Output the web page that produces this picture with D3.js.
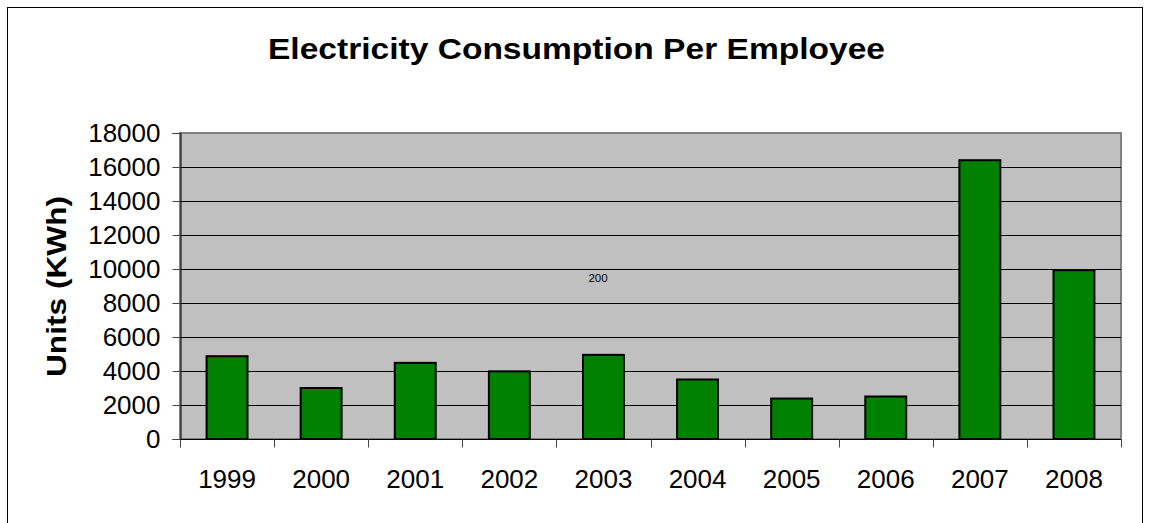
<!DOCTYPE html>
<html>
<head>
<meta charset="utf-8">
<script src="https://cdn.jsdelivr.net/npm/d3@7"></script>
<style>
  body { margin: 0; background: #ffffff; }
  text { font-family: "Liberation Sans", Arial, sans-serif; }
</style>
</head>
<body>
<div class="chart"></div>
<script>
var years = ['1999', '2000', '2001', '2002', '2003', '2004', '2005', '2006', '2007', '2008']
var units = [4870, 3000, 4480, 3980, 4950, 3500, 2380, 2500, 16400, 9930]
var yTicks = [0, 2000, 4000, 6000, 8000, 10000, 12000, 14000, 16000, 18000]
var titleText = 'Electricity Consumption Per Employee'
var yLabel = 'Units (KWh)'
var stray = '200'

var width = 1149
var height = 523

function drawChart() {
    var plot = { left: 180, right: 1121, top: 133, bottom: 439 }

    const svg = d3.select('.chart')
        .append('svg')
        .attr('width', width)
        .attr('height', height)

    // outer chart border (bottom runs off the picture)
    svg.append('rect')
        .attr('x', 7.5).attr('y', 7.5)
        .attr('width', 1135).attr('height', 530)
        .attr('fill', 'white')
        .attr('stroke', 'black')
        .attr('stroke-width', 1)

    var x = d3.scaleBand()
        .domain(years)
        .range([plot.left, plot.right])
        .paddingInner(0.565)
        .paddingOuter(0.2825)

    var y = d3.scaleLinear()
        .domain([0, 18000])
        .range([plot.bottom, plot.top])

    // gray plot area
    svg.append('rect')
        .attr('x', plot.left).attr('y', plot.top)
        .attr('width', plot.right - plot.left)
        .attr('height', plot.bottom - plot.top)
        .attr('fill', '#c0c0c0')
        .attr('stroke', '#808080')
        .attr('stroke-width', 2)

    // gridlines
    svg.selectAll('.grid')
        .data(yTicks.slice(1, -1))
        .enter()
        .append('line')
        .attr('x1', plot.left).attr('x2', plot.right)
        .attr('y1', function(d) { return Math.round(y(d)) + 0.5 })
        .attr('y2', function(d) { return Math.round(y(d)) + 0.5 })
        .attr('stroke', '#000')
        .attr('stroke-width', 1)

    // bars
    svg.selectAll('.bar')
        .data(units)
        .enter()
        .append('rect')
        .attr('x', function(d, i) { return x(years[i]) })
        .attr('y', function(d) { return y(d) })
        .attr('width', x.bandwidth())
        .attr('height', function(d) { return y(0) - y(d) })
        .attr('fill', '#008000')
        .attr('stroke', 'black')
        .attr('stroke-width', 2)

    // y axis
    var yAxis = d3.axisLeft(y)
        .tickValues(yTicks)
        .tickSize(8)
        .tickPadding(12)
        .tickFormat(d3.format('d'))
    var gy = svg.append('g')
        .attr('transform', 'translate(' + (plot.left + 0.5) + ',0)')
        .call(yAxis)
    gy.select('.domain').attr('stroke', 'black')
    gy.selectAll('.tick line').attr('stroke', '#444')
    gy.selectAll('text')
        .style('font-size', '26px')
        .attr('fill', 'black')

    // x axis, ticks between categories
    var gx = svg.append('g')
        .attr('transform', 'translate(0,' + (plot.bottom + 0.5) + ')')
    gx.append('line')
        .attr('x1', plot.left).attr('x2', plot.right)
        .attr('stroke', 'black')
    var step = x.step()
    var edges = years.map(function(d) { return x(d) - (step - x.bandwidth()) / 2 })
    edges.push(plot.right)
    gx.selectAll('.xtick')
        .data(edges)
        .enter()
        .append('line')
        .attr('x1', function(d) { return Math.round(d) + 0.5 })
        .attr('x2', function(d) { return Math.round(d) + 0.5 })
        .attr('y1', 0).attr('y2', 8)
        .attr('stroke', '#444')
    gx.selectAll('.xlabel')
        .data(years)
        .enter()
        .append('text')
        .text(function(d) { return d })
        .attr('x', function(d) { return x(d) + x.bandwidth() / 2 })
        .attr('y', 48)
        .style('text-anchor', 'middle')
        .style('font-size', '26px')

    // title (original is drawn wider than plain Arial bold)
    svg.append('text')
        .text(titleText)
        .attr('x', 268)
        .attr('y', 59)
        .attr('textLength', 617)
        .attr('lengthAdjust', 'spacingAndGlyphs')
        .style('font-size', '30px')
        .style('font-weight', 'bold')

    // y axis title
    var cy = (plot.top + plot.bottom) / 2
    svg.append('text')
        .text(yLabel)
        .attr('transform', 'translate(66,' + (cy + 91) + ') rotate(-90)')
        .attr('textLength', 181)
        .attr('lengthAdjust', 'spacingAndGlyphs')
        .style('font-size', '27px')
        .style('font-weight', 'bold')

    // leftover label in middle of plot
    svg.append('text')
        .text(stray)
        .attr('x', 598)
        .attr('y', 282)
        .style('text-anchor', 'middle')
        .style('font-size', '11.5px')
}
drawChart()
</script>
</body>
</html>
